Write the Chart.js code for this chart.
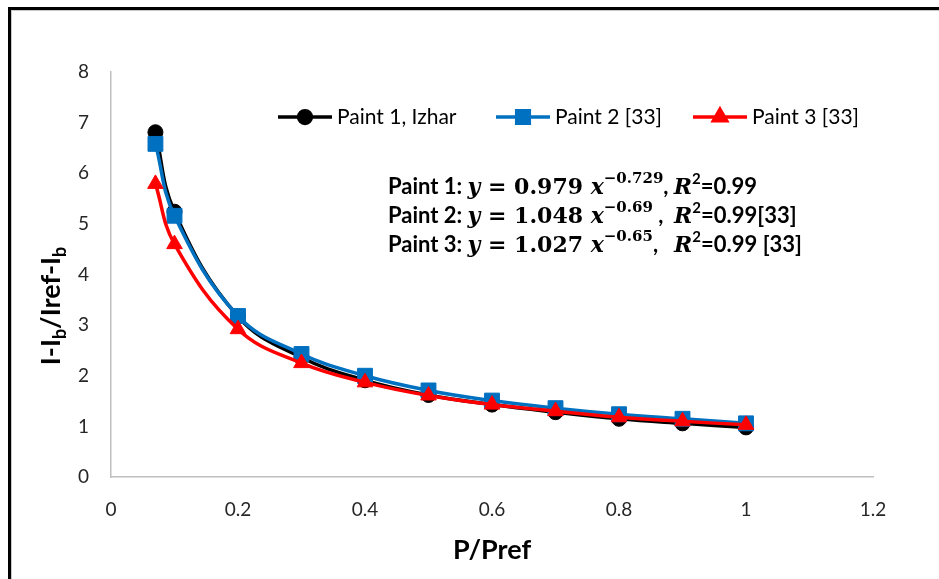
<!DOCTYPE html>
<html>
<head>
<meta charset="utf-8">
<script src="https://cdn.jsdelivr.net/npm/chart.js@4.4.1/dist/chart.umd.min.js"></script>
<style>
    html, body { margin: 0; padding: 0; background: #fff; overflow: hidden; }
    #wrap { position: relative; width: 939px; height: 579px; }
    #frame { position: absolute; left: 8px; top: 7px; width: 1000px; height: 700px;
             border-left: 3px solid #000; border-top: 3px solid #000;
             box-shadow: inset 1px 1px 0 #c8c8c8; }
    #chart { position: absolute; left: 0; top: 0; }
</style>
</head>
<body>
<div id="wrap">
    <div id="frame"></div>
    <canvas id="chart" width="939" height="579"></canvas>
</div>
<script>
// P/Pref on the x axis
const pRatio = [0.07, 0.1, 0.2, 0.3, 0.4, 0.5, 0.6, 0.7, 0.8, 0.9, 1.0]
// normalised current (I-Ib)/(Iref-Ib) per paint
const paint1 = [6.81, 5.24, 3.17, 2.36, 1.91, 1.62, 1.43, 1.28, 1.15, 1.06, 0.98]
const paint2 = [6.58, 5.16, 3.18, 2.43, 2.00, 1.71, 1.51, 1.36, 1.24, 1.15, 1.06]
const paint3 = [5.79, 4.60, 2.92, 2.25, 1.87, 1.61, 1.43, 1.30, 1.18, 1.10, 1.03]

const seriesNames = ["Paint 1, Izhar", "Paint 2 [33]", "Paint 3 [33]"]
const xTicks = [0, 0.2, 0.4, 0.6, 0.8, 1, 1.2]
const yTicks = [0, 1, 2, 3, 4, 5, 6, 7, 8]

// power-law fits y = a x^b
const fitCoef = ["0.979", "1.048", "1.027"]
const fitExp = ["\u22120.729", "\u22120.69", "\u22120.65"]
const fitSep = [", ", " ,  ", ",   "]
const fitR2 = ["=0.99", "=0.99[33]", "=0.99 [33]"]

const FONT = "Lato, 'Open Sans', sans-serif"
const MATH = "'DejaVu Serif', 'Liberation Serif', serif"

const colors = ["#000000", "#0070C0", "#FF0000"]
const styles = [
    { pointStyle: "circle", radius: 7.5 },
    { pointStyle: "rect", radius: 10.5 },
    { pointStyle: "triangle", radius: 9 }
]

function toPoints(ys) {
    return pRatio.map((x, i) => ({ x: x, y: ys[i] }))
}

// draws a run of text pieces with their own fonts and vertical shifts
function drawRun(ctx, x, y, parts) {
    parts.forEach(p => {
        ctx.font = p[1]
        ctx.fillText(p[0], x, y + (p[2] || 0))
        x += ctx.measureText(p[0]).width
    })
    return x
}

const legendPlugin = {
    id: "innerLegend",
    afterDraw(chart) {
        const ctx = chart.ctx
        const y = 117
        const spots = [278, 496, 693]
        ctx.save()
        ctx.textBaseline = "middle"
        ctx.textAlign = "left"
        spots.forEach((x0, i) => {
            ctx.strokeStyle = colors[i]
            ctx.fillStyle = colors[i]
            ctx.lineWidth = 3.5
            ctx.beginPath()
            ctx.moveTo(x0, y)
            ctx.lineTo(x0 + 54, y)
            ctx.stroke()
            Chart.helpers.drawPoint(ctx, {
                pointStyle: styles[i].pointStyle,
                radius: styles[i].radius * 0.85,
                borderWidth: 1,
                rotation: 0
            }, x0 + 27, y)
            ctx.fillStyle = "#000"
            ctx.font = "21px " + FONT
            ctx.fillText(seriesNames[i], x0 + 59, y)
        })
        ctx.restore()
    }
}

const equationPlugin = {
    id: "fitEquations",
    afterDraw(chart) {
        const ctx = chart.ctx
        const bold = "bold 22px " + FONT
        const mi = "bold italic 22px " + MATH
        const mr = "bold 22px " + MATH
        const sup = "bold 15px " + MATH
        const supB = "bold 15px " + FONT
        ctx.save()
        ctx.fillStyle = "#000"
        ctx.textBaseline = "alphabetic"
        ctx.textAlign = "left"
        for (let i = 0; i < 3; i++) {
            const y = 194 + i * 29
            drawRun(ctx, 388, y, [
                ["Paint " + (i + 1) + ": ", bold],
                ["y", mi],
                [" = ", mr],
                [fitCoef[i] + " ", mr],
                ["x", mi],
                [fitExp[i], sup, -11],
                [fitSep[i], bold],
                ["R", mi],
                ["2", supB, -10],
                [fitR2[i], bold]
            ])
        }
        ctx.restore()
    }
}

const yTitlePlugin = {
    id: "yTitle",
    afterDraw(chart) {
        const ctx = chart.ctx
        const main = "bold 27px " + FONT
        const sub = "bold 18px " + FONT
        const parts = [["I-I", main], ["b", sub, 6], ["/Iref-I", main], ["b", sub, 6]]
        let w = 0
        parts.forEach(p => { ctx.font = p[1]; w += ctx.measureText(p[0]).width })
        ctx.save()
        ctx.translate(60, 306)
        ctx.rotate(-Math.PI / 2)
        ctx.fillStyle = "#000"
        ctx.textBaseline = "alphabetic"
        ctx.textAlign = "left"
        drawRun(ctx, -w / 2, 0, parts)
        ctx.restore()
    }
}

const datasets = [paint1, paint2, paint3].map((ys, i) => ({
    label: seriesNames[i],
    data: toPoints(ys),
    borderColor: colors[i],
    backgroundColor: colors[i],
    borderWidth: 3.5,
    tension: 0.4,
    pointStyle: styles[i].pointStyle,
    pointRadius: styles[i].radius,
    pointBorderWidth: 1,
    pointHoverRadius: styles[i].radius,
    order: 3 - i
}))

const tickFont = { family: FONT, size: 19 }

new Chart(document.getElementById("chart"), {
    type: "line",
    data: { datasets: datasets },
    options: {
        responsive: false,
        animation: false,
        devicePixelRatio: 1,
        layout: { padding: { left: 0, top: 72, right: 66, bottom: 0 } },
        plugins: {
            legend: { display: false },
            tooltip: { enabled: false }
        },
        scales: {
            x: {
                type: "linear",
                min: 0,
                max: 1.2,
                afterBuildTicks: s => { s.ticks = xTicks.map(v => ({ value: v })) },
                afterFit: s => { s.height = 102 },
                grid: { display: false, drawTicks: false },
                border: { display: true, color: "#bfbfbf", width: 1.5 },
                ticks: { font: tickFont, color: "#262626", padding: 21, maxRotation: 0,
                         callback: v => String(v) },
                title: {
                    display: true,
                    text: "P/Pref",
                    font: { family: FONT, size: 27, weight: "bold" },
                    color: "#000",
                    padding: { top: 0, bottom: 13 }
                }
            },
            y: {
                type: "linear",
                min: 0,
                max: 8,
                afterBuildTicks: s => { s.ticks = yTicks.map(v => ({ value: v })) },
                afterFit: s => { s.width = 111 },
                grid: { display: false, drawTicks: false },
                border: { display: true, color: "#bfbfbf", width: 1.5 },
                ticks: { font: tickFont, color: "#262626", padding: 22,
                         callback: v => String(v) }
            }
        }
    },
    plugins: [legendPlugin, equationPlugin, yTitlePlugin]
})
</script>
</body>
</html>
